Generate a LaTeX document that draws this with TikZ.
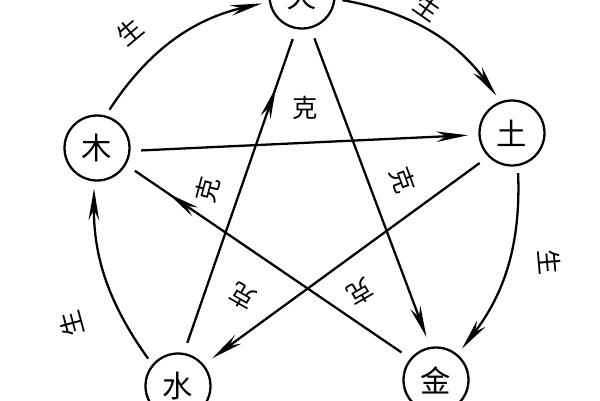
\documentclass[tikz,border=0pt]{standalone}
\usepackage{fontspec}
\newfontfamily\cjk{Noto Sans CJK SC}
\usetikzlibrary{arrows.meta,decorations.markings}

\begin{document}
\begin{tikzpicture}[x=0.02cm, y=-0.02cm, line width=1.3pt,
    >={Stealth[length=18pt,width=6pt]},
    elem/.style={circle, draw, minimum size=1.3cm, font=\cjk\LARGE},
    lbl/.style={font=\cjk\Large},
    arrowat/.style={postaction={decorate, decoration={markings,
      mark=at position #1 with {\arrow{>}}}}}]

  \useasboundingbox (0,0) rectangle (600,400);

  % the five elements
  \node[elem] (huo) at (302,-4) {火};
  \node[elem] (mu) at (97,148) {木};
  \node[elem] (tu) at (512,133) {土};
  \node[elem] (shui) at (178,386) {水};
  \node[elem] (jin) at (436,380) {金};

  % sheng cycle
  \draw[->, shorten >=4pt, shorten <=4pt] (mu.75) to[bend left=22] (huo.190);
  \draw[->, shorten >=4pt, shorten <=4pt] (huo.-5) to[bend left=22] (tu.110);
  \draw[->, shorten >=4pt, shorten <=4pt] (tu.-80) to[bend left=20] (jin.50);
  \draw[->, shorten >=4pt, shorten <=4pt] (shui.140) to[bend left=18] (mu.-95);

  \node[lbl, rotate=40] at (130,32) {生};
  \node[lbl, rotate=-35] at (428,8) {生};
  \node[lbl, rotate=-85] at (550,262) {生};
  \node[lbl, rotate=105] at (72,324) {生};

  % ke cycle
  \draw[->, shorten >=6pt, shorten <=6pt] (mu.-5) -- (tu.183);
  \draw[->, shorten >=6pt, shorten <=6pt] (tu.-135) -- (shui.40);
  \draw[arrowat=0.82, shorten >=6pt, shorten <=6pt] (shui.80) -- (huo.-100);
  \draw[->, shorten >=6pt, shorten <=6pt] (huo.-75) -- (jin.100);
  \draw[arrowat=0.85, shorten >=6pt, shorten <=6pt] (jin.140) -- (mu.-30);

  \node[lbl] at (305,108) {克};
  \node[lbl, rotate=75] at (207,190) {克};
  \node[lbl, rotate=-70] at (403,180) {克};
  \node[lbl, rotate=150] at (243,296) {克};
  \node[lbl, rotate=-150] at (360,292) {克};

\end{tikzpicture}
\end{document}
